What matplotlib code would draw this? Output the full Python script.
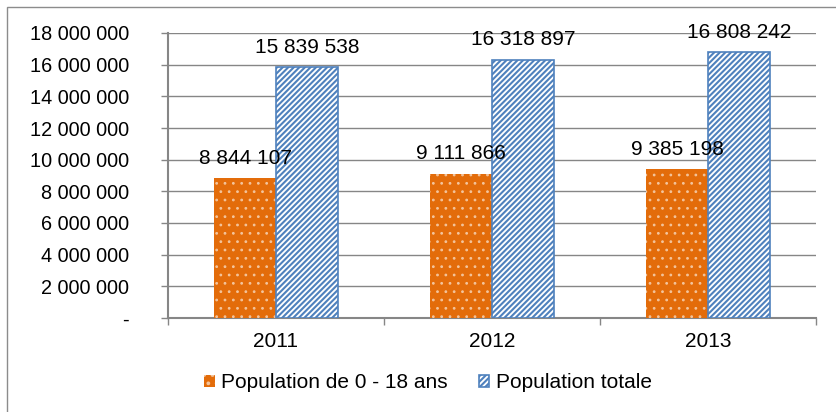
import numpy as np
import matplotlib
matplotlib.use('Agg')
import matplotlib.pyplot as plt
from matplotlib.ticker import FuncFormatter, FixedLocator
from matplotlib.patches import Rectangle

years = ['2011', '2012', '2013']
pop_0_18 = [8844107, 9111866, 9385198]
pop_totale = [15839538, 16318897, 16808242]
labels = ['Population de 0 - 18 ans', 'Population totale']

ORANGE = '#E36C0A'
BLUE = '#4F81BD'
GREY = '#868686'

plt.rcParams['font.family'] = ['Liberation Sans', 'DejaVu Sans']
plt.rcParams['hatch.linewidth'] = 1.5


def fmt_thousands(v, pos=None):
    if v == 0:
        return '-'
    return f'{int(round(v)):,}'.replace(',', ' ')


fig = plt.figure(figsize=(8.37, 4.12), dpi=100)
ax = fig.add_axes([168 / 837, 1 - 318 / 412, 648 / 837, 285 / 412])

# outer chart frame (left / top edges visible)
fig.patches.append(Rectangle((7 / 837, -0.1), 1.2, 1 - 7 / 412 + 0.1,
                             transform=fig.transFigure, fill=False,
                             edgecolor='#8c8c8c', linewidth=1.0))

x = np.arange(len(years))
w = 0.285

b1 = ax.bar(x - w / 2, pop_0_18, w, color=ORANGE, edgecolor='#f3c49c',
            linewidth=0, hatch='..', label=labels[0], zorder=3)
b2 = ax.bar(x + w / 2, pop_totale, w, color='white', edgecolor=BLUE,
            linewidth=1.2, hatch='//////', label=labels[1], zorder=3)
for p in b1:
    if hasattr(p, 'set_hatch_linewidth'):
        p.set_hatch_linewidth(0.8)

for rect, v in zip(list(b1) + list(b2), pop_0_18 + pop_totale):
    ax.text(rect.get_x() + rect.get_width() / 2, v + 1250000, fmt_thousands(v),
            ha='center', va='center', fontsize=15, color='black')

ax.set_xlim(-0.5, 2.5)
ax.set_ylim(0, 18000000)
ax.yaxis.set_major_locator(FixedLocator(np.arange(0, 18000001, 2000000)))
ax.yaxis.set_major_formatter(FuncFormatter(fmt_thousands))
ax.set_xticks(x)
ax.set_xticklabels(years)
ax.xaxis.set_minor_locator(FixedLocator([-0.5, 0.5, 1.5, 2.5]))

ax.grid(axis='y', color=GREY, linewidth=1.0, zorder=0)
ax.set_axisbelow(True)

for s in ['top', 'right']:
    ax.spines[s].set_visible(False)
for s in ['left', 'bottom']:
    ax.spines[s].set_color(GREY)
    ax.spines[s].set_linewidth(1.5)

ax.tick_params(axis='y', which='major', length=5, color=GREY, width=1,
               labelsize=14.3, pad=23)
ax.tick_params(axis='x', which='major', length=0, labelsize=15, pad=10)
ax.tick_params(axis='x', which='minor', length=5, color=GREY, width=1)

leg = fig.legend(handles=[b1, b2], labels=labels, loc='center',
                 bbox_to_anchor=(428 / 837, 1 - 383 / 412), ncol=2,
                 frameon=False, fontsize=15, handlelength=0.5,
                 handleheight=0.5, handletextpad=0.3, columnspacing=1.5)

fig.savefig('out.png', dpi=100)
